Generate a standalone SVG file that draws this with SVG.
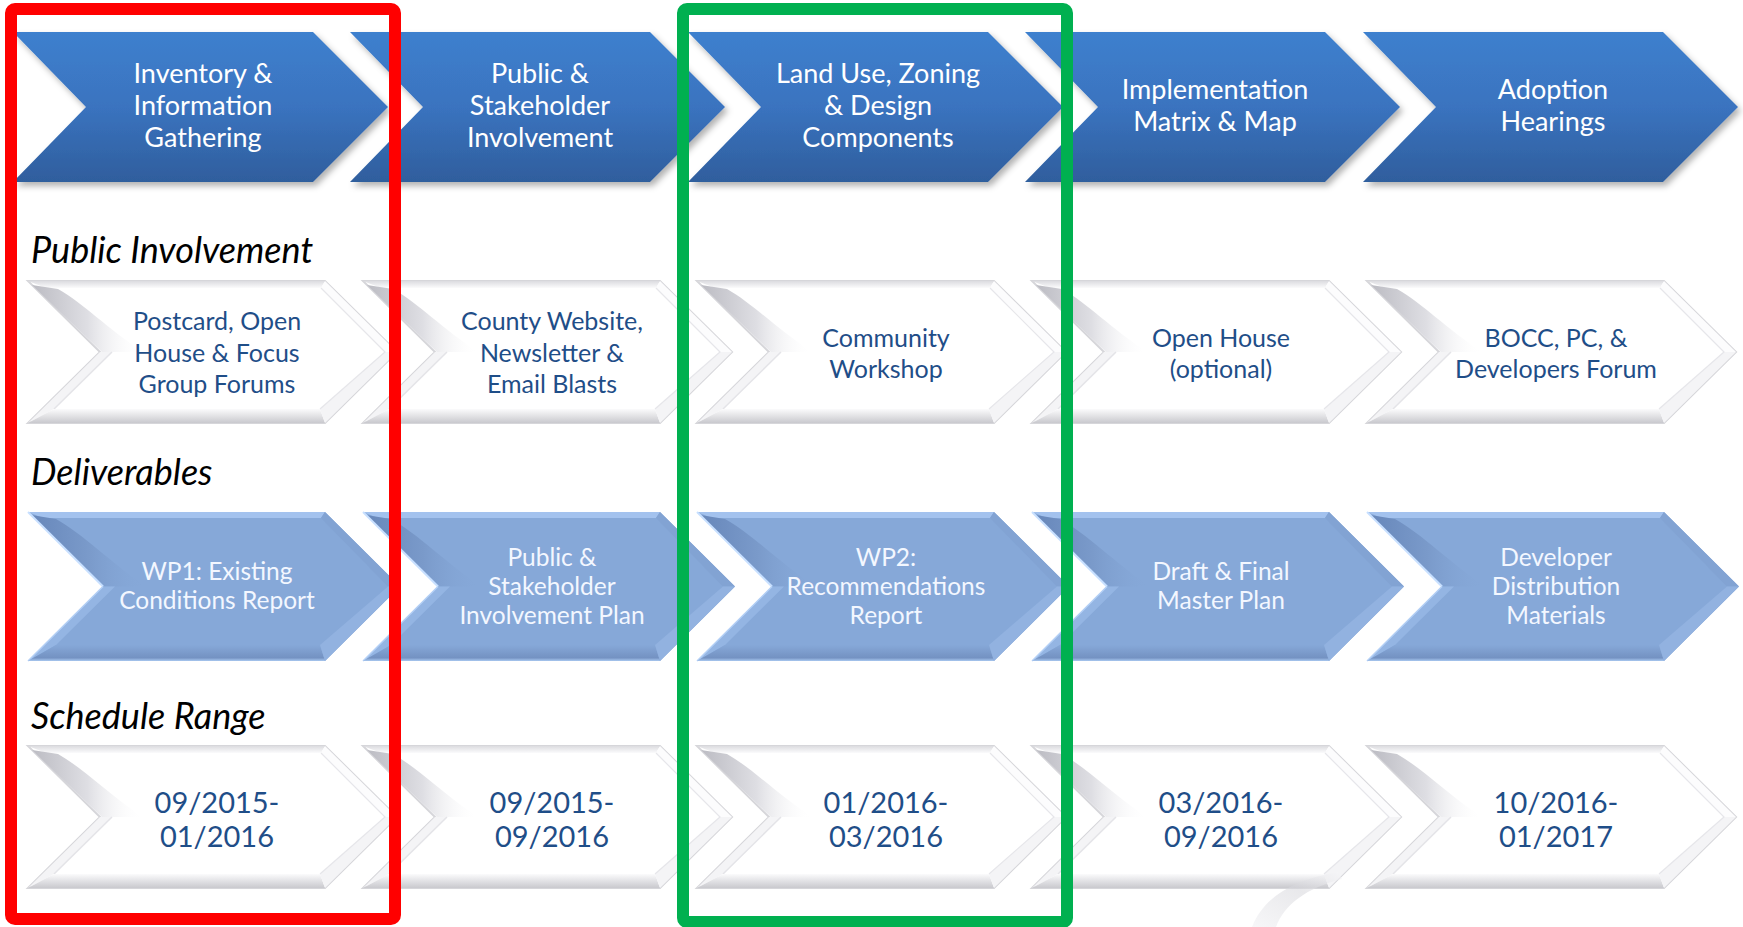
<svg xmlns="http://www.w3.org/2000/svg" xmlns:xlink="http://www.w3.org/1999/xlink" width="1743" height="927" viewBox="0 0 1743 927">
<style>
.tt{font-family:Lato,"Open Sans","Noto Sans",sans-serif;font-size:27px;fill:#ffffff;text-anchor:middle}
.hd{font-family:Lato,"Open Sans","Noto Sans",sans-serif;font-style:italic;font-size:36px;fill:#000000}
.wt{font-family:Lato,"Open Sans","Noto Sans",sans-serif;font-size:25px;fill:#1f4e88;text-anchor:middle}
.bt{font-family:Lato,"Open Sans","Noto Sans",sans-serif;font-size:24.5px;fill:#f3f7ff;text-anchor:middle}
.st{font-family:Lato,"Open Sans","Noto Sans",sans-serif;font-size:29px;fill:#1f4e88;text-anchor:middle}
</style>
<defs>
<linearGradient id="gTop" x1="0" y1="0" x2="0" y2="1">
<stop offset="0" stop-color="#3e80ce"/><stop offset="0.5" stop-color="#3a73bf"/><stop offset="1" stop-color="#2f5e9d"/>
</linearGradient>
<linearGradient id="gWBot" x1="0" y1="0" x2="0" y2="1">
<stop offset="0" stop-color="#fbfbfc"/><stop offset="1" stop-color="#c9c9ce"/>
</linearGradient>
<linearGradient id="gWTop" x1="0" y1="0" x2="0" y2="1">
<stop offset="0" stop-color="#dcdce0"/><stop offset="1" stop-color="#fbfbfc"/>
</linearGradient>
<linearGradient id="gWShade" x1="0" y1="0" x2="1" y2="0">
<stop offset="0" stop-color="#bcbcc3"/><stop offset="0.5" stop-color="#dedee3"/><stop offset="1" stop-color="#ffffff" stop-opacity="0"/>
</linearGradient>
<linearGradient id="gBBot" x1="0" y1="0" x2="0" y2="1">
<stop offset="0" stop-color="#86a8d8"/><stop offset="0.8" stop-color="#7492c2"/><stop offset="1" stop-color="#a9c8f0"/>
</linearGradient>
<linearGradient id="gBShade" x1="0" y1="0" x2="1" y2="0">
<stop offset="0" stop-color="#6787ba"/><stop offset="0.5" stop-color="#7a9aca"/><stop offset="1" stop-color="#86a8d8" stop-opacity="0"/>
</linearGradient>
<linearGradient id="gCurl" x1="0" y1="1" x2="1" y2="0">
<stop offset="0" stop-color="#f0f0f3"/><stop offset="0.6" stop-color="#d6d6db"/><stop offset="1" stop-color="#f7f7f9"/>
</linearGradient>
<filter id="shadow" x="-5%" y="-10%" width="115%" height="130%">
<feDropShadow dx="3" dy="4" stdDeviation="3" flood-color="#000" flood-opacity="0.3"/>
</filter>
<path id="tc" d="M0,0 H300 L375,75 L300,150 H0 L73,75 Z" fill="url(#gTop)" filter="url(#shadow)"/>
<g id="wc">
<path d="M0,0 H297 L369,71 L297,142 H0 L72,71 Z" fill="#ffffff" stroke="#d6d6da" stroke-width="2"/>
<path d="M0,0 H297 L293,7 H18 Z" fill="url(#gWTop)"/>
<path d="M4,4 L30,8 C55,22 80,48 115,71 L74,71 Z" fill="url(#gWShade)"/>
<path d="M72,71 L84,71 L26,128 L0,142 Z" fill="#f4f4f6"/>
<path d="M84,71 L26,128" stroke="#e4e4e8" stroke-width="1.5" fill="none"/>
<path d="M0,142 L26,128 H292 L297,142 Z" fill="url(#gWBot)"/>
<path d="M297,0 L369,71 L357,71 L293,7 Z" fill="#fcfcfd"/>
<path d="M369,71 L297,142 L292,128 L357,71 Z" fill="#f4f4f6"/>
<path d="M293,7 L357,71 L292,128" stroke="#e6e6ea" stroke-width="1.2" fill="none"/>
</g>
<g id="bc">
<path d="M0,0 H297 L372,74.5 L297,149 H0 L75,74.5 Z" fill="#86a8d8"/>
<path d="M0,0 H297 L293,6 H15 Z" fill="#a3c2ee"/>
<path d="M3,3 L28,7 C55,22 82,50 118,74.5 L77,74.5 Z" fill="url(#gBShade)"/>
<path d="M75,74.5 L87,74.5 L28,133 L0,149 Z" fill="#94b5e3"/>
<path d="M0,0 L75,74.5" stroke="#c8e0ff" stroke-width="2" fill="none"/>
<path d="M75,74.5 L0,149" stroke="#b4d0f6" stroke-width="1.5" fill="none"/>
<path d="M0,149 L28,133 H292 L297,149 Z" fill="url(#gBBot)"/>
<path d="M297,0 L372,74.5 L360,74.5 L293,6 Z" fill="#82a3d3"/>
<path d="M372,74.5 L297,149 L292,133 L360,74.5 Z" fill="#92b2e0"/>
</g>
</defs>
<rect width="1743" height="927" fill="#ffffff"/>

<g id="stage-1"><use xlink:href="#tc" x="13" y="32"/>
<text class="tt" x="203" y="83">Inventory &amp;</text><text class="tt" x="203" y="115">Information</text><text class="tt" x="203" y="147">Gathering</text></g>
<g id="stage-2"><use xlink:href="#tc" x="350" y="32"/>
<text class="tt" x="540" y="83">Public &amp;</text><text class="tt" x="540" y="115">Stakeholder</text><text class="tt" x="540" y="147">Involvement</text></g>
<g id="stage-3"><use xlink:href="#tc" x="688" y="32"/>
<text class="tt" x="878" y="83">Land Use, Zoning</text><text class="tt" x="878" y="115">&amp; Design</text><text class="tt" x="878" y="147">Components</text></g>
<g id="stage-4"><use xlink:href="#tc" x="1025" y="32"/>
<text class="tt" x="1215" y="99">Implementation</text><text class="tt" x="1215" y="131">Matrix &amp; Map</text></g>
<g id="stage-5"><use xlink:href="#tc" x="1363" y="32"/>
<text class="tt" x="1553" y="99">Adoption</text><text class="tt" x="1553" y="131">Hearings</text></g>

<g id="heading-public"><text class="hd" x="31" y="263">Public Involvement</text></g>
<g id="heading-deliverables"><text class="hd" x="31" y="485">Deliverables</text></g>
<g id="heading-schedule"><text class="hd" x="31" y="729">Schedule Range</text></g>

<g id="public-1"><use xlink:href="#wc" x="28" y="281"/>
<text class="wt" x="217" y="330">Postcard, Open</text><text class="wt" x="217" y="361.5">House &amp; Focus</text><text class="wt" x="217" y="393">Group Forums</text></g>
<g id="public-2"><use xlink:href="#wc" x="363" y="281"/>
<text class="wt" x="552" y="330">County Website,</text><text class="wt" x="552" y="361.5">Newsletter &amp;</text><text class="wt" x="552" y="393">Email Blasts</text></g>
<g id="public-3"><use xlink:href="#wc" x="697" y="281"/>
<text class="wt" x="886" y="347">Community</text><text class="wt" x="886" y="378">Workshop</text></g>
<g id="public-4"><use xlink:href="#wc" x="1032" y="281"/>
<text class="wt" x="1221" y="347">Open House</text><text class="wt" x="1221" y="378">(optional)</text></g>
<g id="public-5"><use xlink:href="#wc" x="1367" y="281"/>
<text class="wt" x="1556" y="347">BOCC, PC, &amp;</text><text class="wt" x="1556" y="378">Developers Forum</text></g>

<g id="deliverable-1"><use xlink:href="#bc" x="28" y="512"/>
<text class="bt" x="217" y="580">WP1: Existing</text><text class="bt" x="217" y="609">Conditions Report</text></g>
<g id="deliverable-2"><use xlink:href="#bc" x="363" y="512"/>
<text class="bt" x="552" y="566">Public &amp;</text><text class="bt" x="552" y="595">Stakeholder</text><text class="bt" x="552" y="624">Involvement Plan</text></g>
<g id="deliverable-3"><use xlink:href="#bc" x="697" y="512"/>
<text class="bt" x="886" y="566">WP2:</text><text class="bt" x="886" y="595">Recommendations</text><text class="bt" x="886" y="624">Report</text></g>
<g id="deliverable-4"><use xlink:href="#bc" x="1032" y="512"/>
<text class="bt" x="1221" y="580">Draft &amp; Final</text><text class="bt" x="1221" y="609">Master Plan</text></g>
<g id="deliverable-5"><use xlink:href="#bc" x="1367" y="512"/>
<text class="bt" x="1556" y="566">Developer</text><text class="bt" x="1556" y="595">Distribution</text><text class="bt" x="1556" y="624">Materials</text></g>

<g id="schedule-1"><use xlink:href="#wc" x="28" y="746"/>
<text class="st" x="217" y="813">09/2015-</text><text class="st" x="217" y="847">01/2016</text></g>
<g id="schedule-2"><use xlink:href="#wc" x="363" y="746"/>
<text class="st" x="552" y="813">09/2015-</text><text class="st" x="552" y="847">09/2016</text></g>
<g id="schedule-3"><use xlink:href="#wc" x="697" y="746"/>
<text class="st" x="886" y="813">01/2016-</text><text class="st" x="886" y="847">03/2016</text></g>
<g id="schedule-4"><use xlink:href="#wc" x="1032" y="746"/>
<text class="st" x="1221" y="813">03/2016-</text><text class="st" x="1221" y="847">09/2016</text></g>
<g id="schedule-5"><use xlink:href="#wc" x="1367" y="746"/>
<text class="st" x="1556" y="813">10/2016-</text><text class="st" x="1556" y="847">01/2017</text></g>

<g id="page-curl" opacity="0.55">
<path d="M1252,927 C1262,900 1290,880 1338,872 L1342,879 C1306,888 1284,905 1276,927 Z" fill="url(#gCurl)"/>
</g>

<g id="highlight-red"><rect x="11" y="9" width="384" height="910" rx="4" fill="none" stroke="#ff0000" stroke-width="12"/></g>
<g id="highlight-green"><rect x="683" y="9" width="384" height="913" rx="4" fill="none" stroke="#00b050" stroke-width="12"/></g>
<g id="connectors"/>
</svg>
